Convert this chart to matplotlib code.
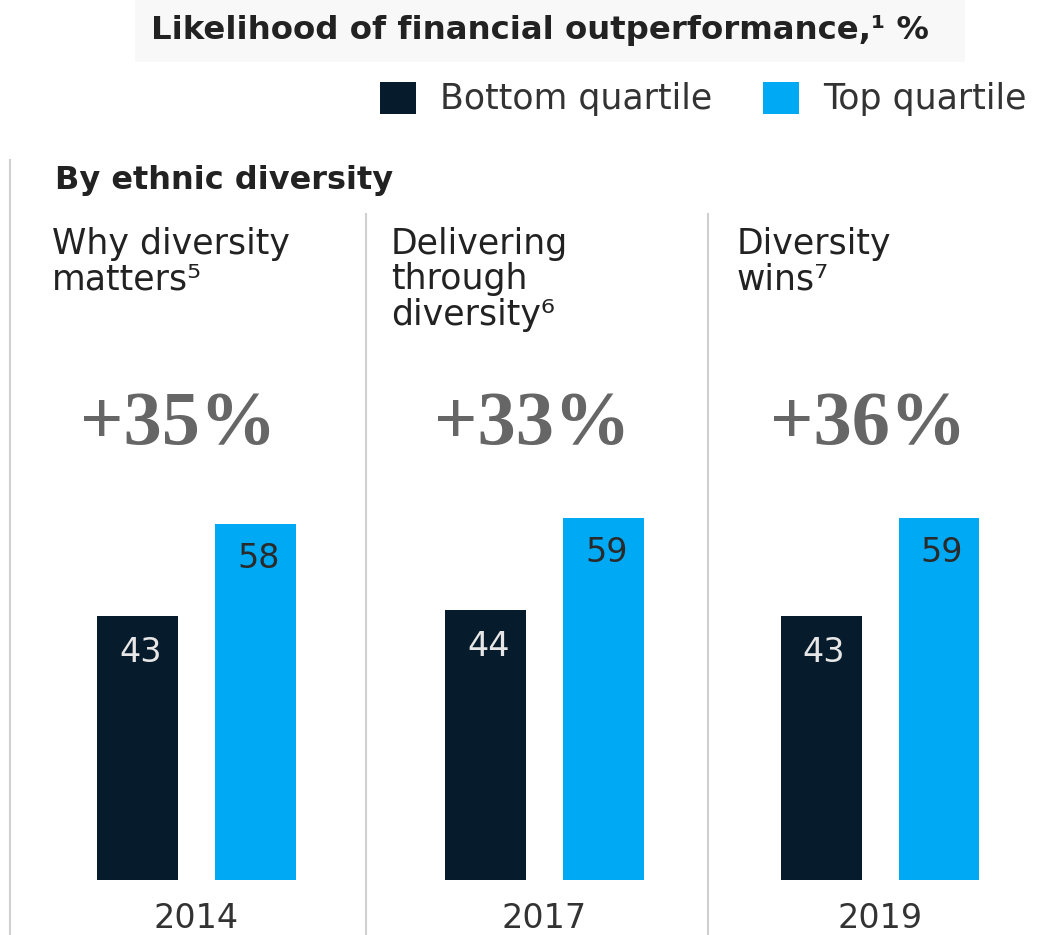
import numpy as np
import matplotlib.pyplot as plt
from matplotlib.patches import Rectangle, Patch
from matplotlib.lines import Line2D

# data
years = ['2014', '2017', '2019']
reports = ['Why diversity\nmatters\u2075', 'Delivering\nthrough\ndiversity\u2076', 'Diversity\nwins\u2077']
bottom_q = [43, 44, 43]
top_q = [58, 59, 59]
uplift = ['+35%', '+33%', '+36%']

dark = '#061b2b'
blue = '#00a9f4'
W, H = 1046, 935

fig = plt.figure(figsize=(W / 100, H / 100), dpi=100)

def fx(px):
    return px / W

def fy(py):
    return 1 - py / H

# faint band behind the title
fig.patches.append(Rectangle((fx(135), fy(62)), fx(830), 62 / H, transform=fig.transFigure,
                             facecolor='#f8f8f8', edgecolor='none', zorder=0))
fig.text(fx(540), fy(31), 'Likelihood of financial outperformance,\u00b9 %', ha='center', va='center',
         fontsize=23.3, fontweight='bold', color='#222222')

handles = [Patch(facecolor=dark), Patch(facecolor=blue)]
fig.legend(handles, ['Bottom quartile', 'Top quartile'], loc='center right',
           bbox_to_anchor=(fx(1027), fy(99)), ncol=2, frameon=False, fontsize=25,
           handlelength=1.04, handleheight=1.04, handletextpad=0.7, columnspacing=1.45,
           borderpad=0, borderaxespad=0, labelcolor='#333333')

fig.text(fx(55), fy(181), 'By ethnic diversity', ha='left', va='center',
         fontsize=23, fontweight='bold', color='#222222')

# separators
fig.add_artist(Line2D([fx(10), fx(10)], [fy(160), fy(935)], color='#d0d0d0', lw=1.5))
for sx in [366, 708]:
    fig.add_artist(Line2D([fx(sx), fx(sx)], [fy(214), fy(935)], color='#d0d0d0', lw=1.5))

# bars: one axes across the figure
ax = fig.add_axes([0, fy(880), 1, 1 - fy(880)])
ax.set_xlim(-196.5 / 343.75, (W - 196.5) / 343.75)
ax.set_ylim(0, 880 / 6.14)
ax.axis('off')

x = np.array([0, 1.0116, 1.9884])
off = 0.1716
w = 0.2356
ax.bar(x - off, bottom_q, w, color=dark)
ax.bar(x + off, top_q, w, color=blue)

for i in range(3):
    ax.annotate(str(bottom_q[i]), (x[i] - off, bottom_q[i]), xytext=(3, -37), textcoords='offset pixels',
                ha='center', va='center', fontsize=24, color='#e6e6e6')
    ax.annotate(str(top_q[i]), (x[i] + off, top_q[i]), xytext=(3, -35), textcoords='offset pixels',
                ha='center', va='center', fontsize=24, color='#2a2a2a')
    ax.annotate(years[i], (x[i], 0), xytext=(0, -39), textcoords='offset pixels',
                ha='center', va='center', fontsize=24, color='#333333', annotation_clip=False)

sub_x = [52, 391, 737]
big_x = [178, 532, 868]
for i in range(3):
    fig.text(fx(sub_x[i]), fy(227), reports[i], ha='left', va='top', fontsize=25,
             color='#222222', linespacing=1.05)
    fig.text(fx(big_x[i]), fy(426), uplift[i], ha='center', va='center', fontsize=55,
             fontweight='bold', family='Liberation Serif', color='#666666')

fig.savefig('out.png', dpi=100)
